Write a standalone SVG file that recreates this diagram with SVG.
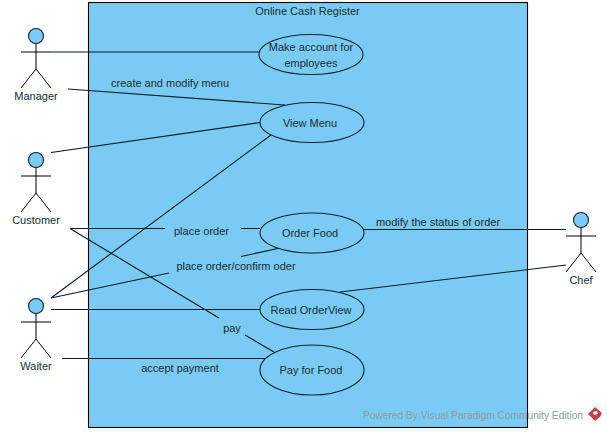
<svg xmlns="http://www.w3.org/2000/svg" width="607" height="432" viewBox="0 0 607 432">
<style>
text{font-family:"Liberation Sans",Arial,sans-serif;font-size:11px;fill:#1a2c38;text-anchor:middle}
.b{fill:#7acbf3;stroke:#0a2233;stroke-width:1.1}
.l{fill:none;stroke:#0a1a26;stroke-width:1.1}
.a{fill:none;stroke:#000;stroke-width:1}
</style>
<defs>
<g id="stick"><circle class="b" cx="0" cy="0" r="7.5"/><path class="a" d="M0 7.5V33M-15 16H15M-15 52L0 33L15 52"/></g>
</defs>
<rect width="607" height="432" fill="#fff"/>
<g id="system"><rect x="88.500" y="2.500" width="439" height="425" fill="#7acbf3" stroke="#000" stroke-width="1.1"/><text x="307.500" y="15">Online Cash Register</text></g>
<g id="connectors">
<path class="l" d="M51 52H260"/>
<path class="l" d="M68 89L285 105"/>
<path class="l" d="M51 152.500L260 122.500"/>
<path class="l" d="M51 298L271 135"/>
<path class="l" d="M70 228.500H165M241 228.500H260"/>
<path class="l" d="M51 298L169 273M241 256.500L280 248"/>
<path class="l" d="M51 309.500H260"/>
<path class="l" d="M70 228.500L219 318M245 335L274 352"/>
<path class="l" d="M62 358.500H265"/>
<path class="l" d="M363 229.500H566"/>
<path class="l" d="M340 292L566 265"/>
<text x="170" y="87">create and modify menu</text>
<text x="201.500" y="235">place order</text>
<text x="236" y="270">place order/confirm oder</text>
<text x="232" y="332">pay</text>
<text x="180" y="372">accept payment</text>
<text x="438" y="226">modify the status of order</text>
</g>
<g id="manager"><use href="#stick" x="36" y="36"/><text x="36" y="100">Manager</text></g>
<g id="customer"><use href="#stick" x="36" y="160"/><text x="36" y="224">Customer</text></g>
<g id="waiter"><use href="#stick" x="36" y="306"/><text x="36" y="370">Waiter</text></g>
<g id="chef"><use href="#stick" x="581" y="220"/><text x="581" y="284">Chef</text></g>
<g id="make-account"><ellipse class="b" cx="311" cy="54.500" rx="52" ry="20"/><text x="311" y="51">Make account for</text><text x="311" y="67">employees</text></g>
<g id="view-menu"><ellipse class="b" cx="312" cy="122.500" rx="52" ry="20"/><text x="310" y="127">View Menu</text></g>
<g id="order-food"><ellipse class="b" cx="312" cy="233" rx="52" ry="20"/><text x="310" y="237">Order Food</text></g>
<g id="read-orderview"><ellipse class="b" cx="312" cy="309.500" rx="52" ry="20"/><text x="311" y="314">Read OrderView</text></g>
<g id="pay-for-food"><ellipse class="b" cx="312" cy="370" rx="52" ry="25"/><text x="311" y="374">Pay for Food</text></g>
<g id="watermark"><text x="363" y="419" textLength="220" lengthAdjust="spacingAndGlyphs" style="fill:#8d9aa3;text-anchor:start">Powered By  Visual Paradigm Community Edition</text><path d="M595 407L602 413L600 417L595 421L588 414Z" fill="#c0444a"/><path d="M593 412L597 411L598 414L594 415Z" fill="#fff"/></g>
</svg>
